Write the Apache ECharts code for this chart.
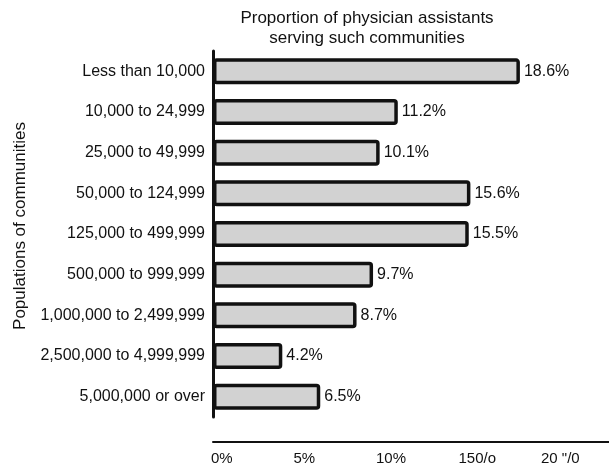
<!DOCTYPE html>
<html>
<head>
<meta charset="utf-8">
<script src="https://cdn.jsdelivr.net/npm/echarts@6/dist/echarts.min.js"></script>
<style>
  html, body { margin: 0; padding: 0; background: #fff; }
  #chart { width: 609px; height: 466px; }
</style>
</head>
<body>
<div id="chart"></div>
<script>
// 社区人口分组
const categories = [
  'Less than 10,000',
  '10,000 to 24,999',
  '25,000 to 49,999',
  '50,000 to 124,999',
  '125,000 to 499,999',
  '500,000 to 999,999',
  '1,000,000 to 2,499,999',
  '2,500,000 to 4,999,999',
  '5,000,000 or over'
]
// 占比 (%)
const shares = [18.6, 11.2, 10.1, 15.6, 15.5, 9.7, 8.7, 4.2, 6.5]
// x 轴刻度文字 (照原图)
const tickValues = [0, 5, 10, 15, 20]
const tickLabels = ['0%', '5%', '10%', '150/o', '20 "/0']

const font = '"Liberation Sans", Arial, sans-serif'
let chart = echarts.init(document.getElementById('chart'))

let option = {
  animation: false,
  title: {
    text: 'Proportion of physician assistants\nserving such communities',
    left: 362,
    top: 3,
    textAlign: 'center',
    textStyle: {
      fontFamily: font,
      fontSize: 17,
      fontWeight: 'normal',
      color: '#111',
      lineHeight: 20
    }
  },
  grid: {
    left: 213,
    right: 0,
    top: 51,
    bottom: 49,
    containLabel: false,
    outerBoundsMode: 'none'
  },
  xAxis: {
    type: 'value',
    min: 0,
    max: 24,
    interval: 5,
    offset: 25,
    splitLine: { show: false },
    axisTick: { show: false },
    axisLine: { show: true, lineStyle: { color: '#111', width: 2 } },
    axisLabel: {
      margin: 9,
      align: 'left',
      fontFamily: font,
      fontSize: 15,
      color: '#111',
      showMaxLabel: false,
      padding: [0, 0, 0, -2],
      formatter: function (v) {
        let i = tickValues.indexOf(v)
        return i >= 0 ? tickLabels[i] : ''
      }
    }
  },
  yAxis: {
    type: 'category',
    inverse: true,
    data: categories,
    name: 'Populations of communities',
    nameLocation: 'middle',
    nameRotate: 90,
    nameGap: 184,
    nameTextStyle: {
      fontFamily: font,
      fontSize: 17,
      color: '#111',
      padding: [0, 0, 0, 16]
    },
    axisTick: { show: false },
    axisLine: { show: true, lineStyle: { color: '#111', width: 3 } },
    axisLabel: {
      margin: 8,
      fontFamily: font,
      fontSize: 16,
      color: '#111'
    }
  },
  series: [{
    type: 'bar',
    data: shares,
    barWidth: 26,
    itemStyle: {
      color: '#d2d2d2',
      borderColor: '#111',
      borderWidth: 3.5,
      borderRadius: 2
    },
    label: {
      show: true,
      position: 'right',
      distance: 4,
      fontFamily: font,
      fontSize: 16,
      color: '#111',
      formatter: '{c}%'
    }
  }]
}
chart.setOption(option, true)
</script>
</body>
</html>
